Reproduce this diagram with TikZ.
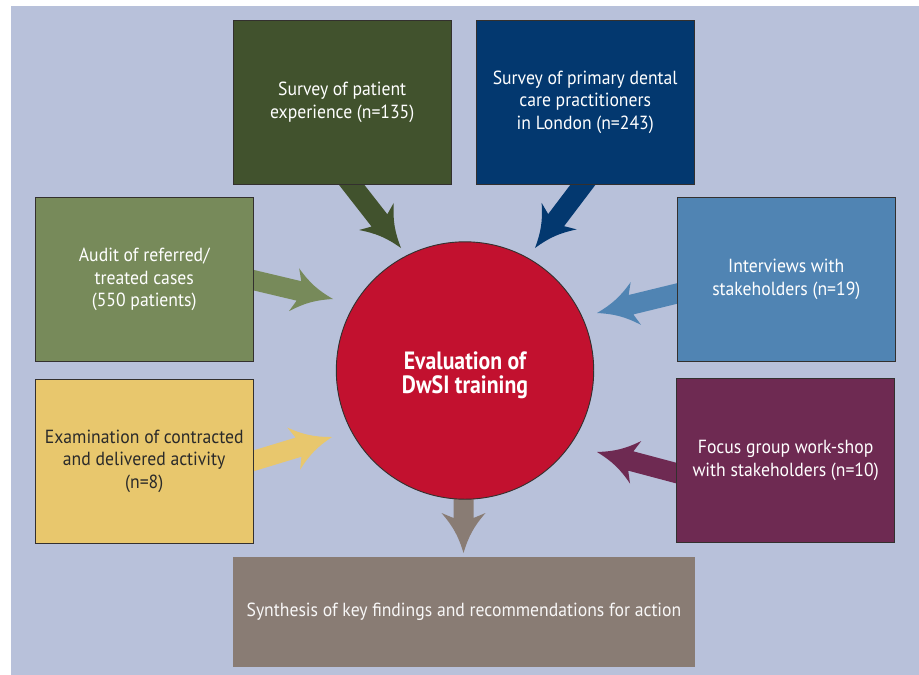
\documentclass[tikz,border=0pt]{standalone}
\usepackage{fontspec}
\setmainfont{PT Sans}[FakeStretch=0.93, BoldFeatures={FakeStretch=0.87}]
\usetikzlibrary{calc}

\definecolor{bgblue}{HTML}{B8C1DA}
\definecolor{edgegrey}{HTML}{33302E}
\definecolor{forest}{HTML}{41522D}
\definecolor{navy}{HTML}{03386F}
\definecolor{steel}{HTML}{5084B3}
\definecolor{plum}{HTML}{6E2A52}
\definecolor{sage}{HTML}{778A5A}
\definecolor{sand}{HTML}{E8C76D}
\definecolor{taupe}{HTML}{897C74}
\definecolor{crimson}{HTML}{C2112F}
\definecolor{inkdark}{HTML}{2A2A2A}

\tikzset{
  box/.style={draw=edgegrey, line width=0.9pt, minimum width=218pt,
    minimum height=164pt, inner sep=0pt, align=center, text=white,
    font=\fontsize{19}{22.5}\selectfont},
  hub/.style={circle, fill=crimson, draw=edgegrey, line width=0.9pt,
    minimum size=257.4pt, inner sep=0pt},
  hubtext/.style={align=center, text=white, inner sep=0pt,
    font=\bfseries\fontsize{25}{23.5}\selectfont},
}

% Broad arrow with a swept-back head: #1 start, #2 tip, #3 colour
\newcommand\fatarrow[3]{%
  \coordinate (fa-a) at ($(#1)!-20pt!(#2)$);
  \coordinate (fa-n) at ($(#2)!35pt!(#1)$);
  \coordinate (fa-m) at ($(#2)!40pt!(#1)$);
  \fill[#3] ($(fa-a)!10pt!90:(#2)$) -- ($(fa-n)!10pt!90:(#2)$)
    -- ($(fa-m)!22pt!90:(#2)$) to[bend right=12] (#2)
    to[bend right=12] ($(fa-m)!22pt!-90:(#2)$)
    -- ($(fa-n)!10pt!-90:(#2)$) -- ($(fa-a)!10pt!-90:(#2)$) -- cycle;
}

\begin{document}
\begin{tikzpicture}[x=1pt, y=-1pt]
\useasboundingbox (0,0) rectangle (919,675);
\fill[bgblue] (11,6) rectangle (919,675);

% box centres
\path (342.2,102.2) coordinate (p1) (585.2,102.2) coordinate (p2)
      (786.3,279.2) coordinate (p3) (785.6,460.5) coordinate (p4)
      (144.2,279.7) coordinate (p5) (144.2,461.3) coordinate (p6)
      (464,611.8) coordinate (p7) (465,370.5) coordinate (pc);

% arrow ends
\coordinate (s1) at (351,184);   \coordinate (t1) at (401,248);
\coordinate (s2) at (583.5,184); \coordinate (t2) at (535,248);
\coordinate (s3) at (677,293.5); \coordinate (t3) at (597,313);
\coordinate (s4) at (676,473);   \coordinate (t4) at (597,452);
\coordinate (s5) at (253,280);   \coordinate (t5) at (333,299);
\coordinate (s6) at (253,461);   \coordinate (t6) at (332,437);
\coordinate (s7) at (463.5,420); \coordinate (t7) at (463.5,553);

\fatarrow{s1}{t1}{forest}
\fatarrow{s2}{t2}{navy}
\fatarrow{s3}{t3}{steel}
\fatarrow{s4}{t4}{plum}
\fatarrow{s5}{t5}{sage}
\fatarrow{s6}{t6}{sand}
\fatarrow{s7}{t7}{taupe}

\node[hub] (hub) at (pc) {};
\node[hubtext] (hublabel) at ([yshift=-5pt]pc) {Evaluation of\\DwSI training};

\node[box, fill=forest] (patient) at (p1)
  {Survey of patient\\experience (n=135)};
\node[box, fill=navy] (dental) at (p2)
  {Survey of primary dental\\care practitioners\\in London (n=243)};
\node[box, fill=steel] (interviews) at (p3)
  {Interviews with\\stakeholders (n=19)};
\node[box, fill=plum] (focus) at (p4)
  {Focus group work-shop\\with stakeholders (n=10)};
\node[box, fill=sage] (audit) at (p5)
  {Audit of referred/\\treated cases\\(550 patients)};
\node[box, fill=sand, text=inkdark] (exam) at (p6)
  {Examination of contracted\\and delivered activity\\(n=8)};
\node[box, draw=none, fill=taupe, minimum width=461.4pt,
  minimum height=109.7pt, text=white!94!taupe] (synth) at (p7)
  {Synthesis of key findings and recommendations for action};
\end{tikzpicture}
\end{document}
